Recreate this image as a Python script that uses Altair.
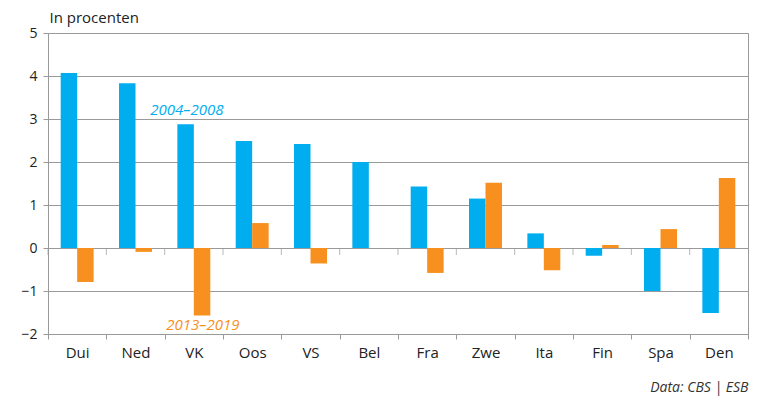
import altair as alt
import pandas as pd

landen = ["Dui", "Ned", "VK", "Oos", "VS", "Bel", "Fra", "Zwe", "Ita", "Fin", "Spa", "Den"]
periodes = ["2004–2008", "2013–2019"]
groei_2004_2008 = [4.07, 3.83, 2.88, 2.49, 2.42, 2.0, 1.43, 1.15, 0.34, -0.18, -1.0, -1.51]
groei_2013_2019 = [-0.79, -0.09, -1.57, 0.58, -0.36, 0.0, -0.58, 1.52, -0.52, 0.07, 0.44, 1.63]

BLUE = "#00AEEF"
ORANGE = "#F7901E"
GRID = "#9a9a9a"
FONT = "Open Sans"

rows = []
for i, land in enumerate(landen):
    rows.append({"land": land, "periode": periodes[0], "waarde": groei_2004_2008[i]})
    rows.append({"land": land, "periode": periodes[1], "waarde": groei_2013_2019[i]})
df = pd.DataFrame(rows)

ann = pd.DataFrame({
    "land": ["VK", "VK"],
    "y": [3.22, -1.79],
    "label": periodes,
    "periode": periodes,
})

tick_df = pd.DataFrame({"land": landen, "waarde": [0] * len(landen)})

W, H = 700, 301

xscale = alt.Scale(domain=landen, paddingInner=0, paddingOuter=0)
yscale = alt.Scale(domain=[-2, 5], nice=False)

x_enc = alt.X("land:N", sort=landen, scale=xscale, title="Data: CBS | ESB",
              axis=alt.Axis(title="Data: CBS | ESB", orient="bottom", tickBand="extent", labelAngle=0,
                            labelFont=FONT, labelFontSize=15, labelColor="#222",
                            labelPadding=6, tickSize=5, tickColor=GRID, domainColor=GRID,
                            titleFont=FONT, titleFontSize=14, titleFontStyle="italic",
                            titleFontWeight="normal", titleColor="#333",
                            titleAnchor="end", titleAlign="right", titleX=W, titleY=57,
                            titleBaseline="alphabetic", grid=False))

y_enc = alt.Y("waarde:Q", scale=yscale, title="In procenten",
              axis=alt.Axis(title="In procenten", values=[-2, -1, 0, 1, 2, 3, 4, 5],
                            grid=True, gridColor=GRID, gridWidth=1, domainColor=GRID,
                            tickColor=GRID, tickSize=5, labelPadding=6,
                            labelFont=FONT, labelFontSize=14, labelColor="#222",
                            titleFont=FONT, titleFontSize=15, titleFontWeight="normal",
                            titleColor="#222", titleAngle=0, titleAlign="left",
                            titleBaseline="alphabetic", titleX=1, titleY=-11))

bars = alt.Chart(df).mark_bar().encode(
    x=x_enc,
    xOffset=alt.XOffset("periode:N", sort=periodes,
                        scale=alt.Scale(domain=periodes, paddingInner=0, paddingOuter=0.77)),
    y=y_enc,
    color=alt.Color("periode:N", scale=alt.Scale(domain=periodes, range=[BLUE, ORANGE]),
                    legend=None),
)

zero_ticks = alt.Chart(tick_df).mark_tick(
    color=GRID, thickness=1, size=7, yOffset=3.5, xOffset=-W / len(landen) / 2,
    orient="vertical").encode(
    x=x_enc,
    y=y_enc,
)

ann1 = ann[ann.periode == periodes[0]].rename(columns={"y": "waarde"})
ann2 = ann[ann.periode == periodes[1]].rename(columns={"y": "waarde"})

lbl1 = alt.Chart(ann1).mark_text(
    font=FONT, fontSize=15, fontStyle="italic", dx=-7, color=BLUE).encode(
    x=x_enc,
    y=y_enc,
    text="label:N",
)
lbl2 = alt.Chart(ann2).mark_text(
    font=FONT, fontSize=15, fontStyle="italic", dx=9, color=ORANGE).encode(
    x=x_enc,
    y=y_enc,
    text="label:N",
)

chart = alt.layer(bars, zero_ticks, lbl1, lbl2).properties(
    width=W, height=H,
    autosize=alt.AutoSizeParams(type="none"),
    padding={"left": 40, "top": 25, "right": 4, "bottom": 62},
).configure_view(stroke=GRID, strokeWidth=1)

chart.save("out.html", embed_options={"renderer": "svg", "actions": False})
